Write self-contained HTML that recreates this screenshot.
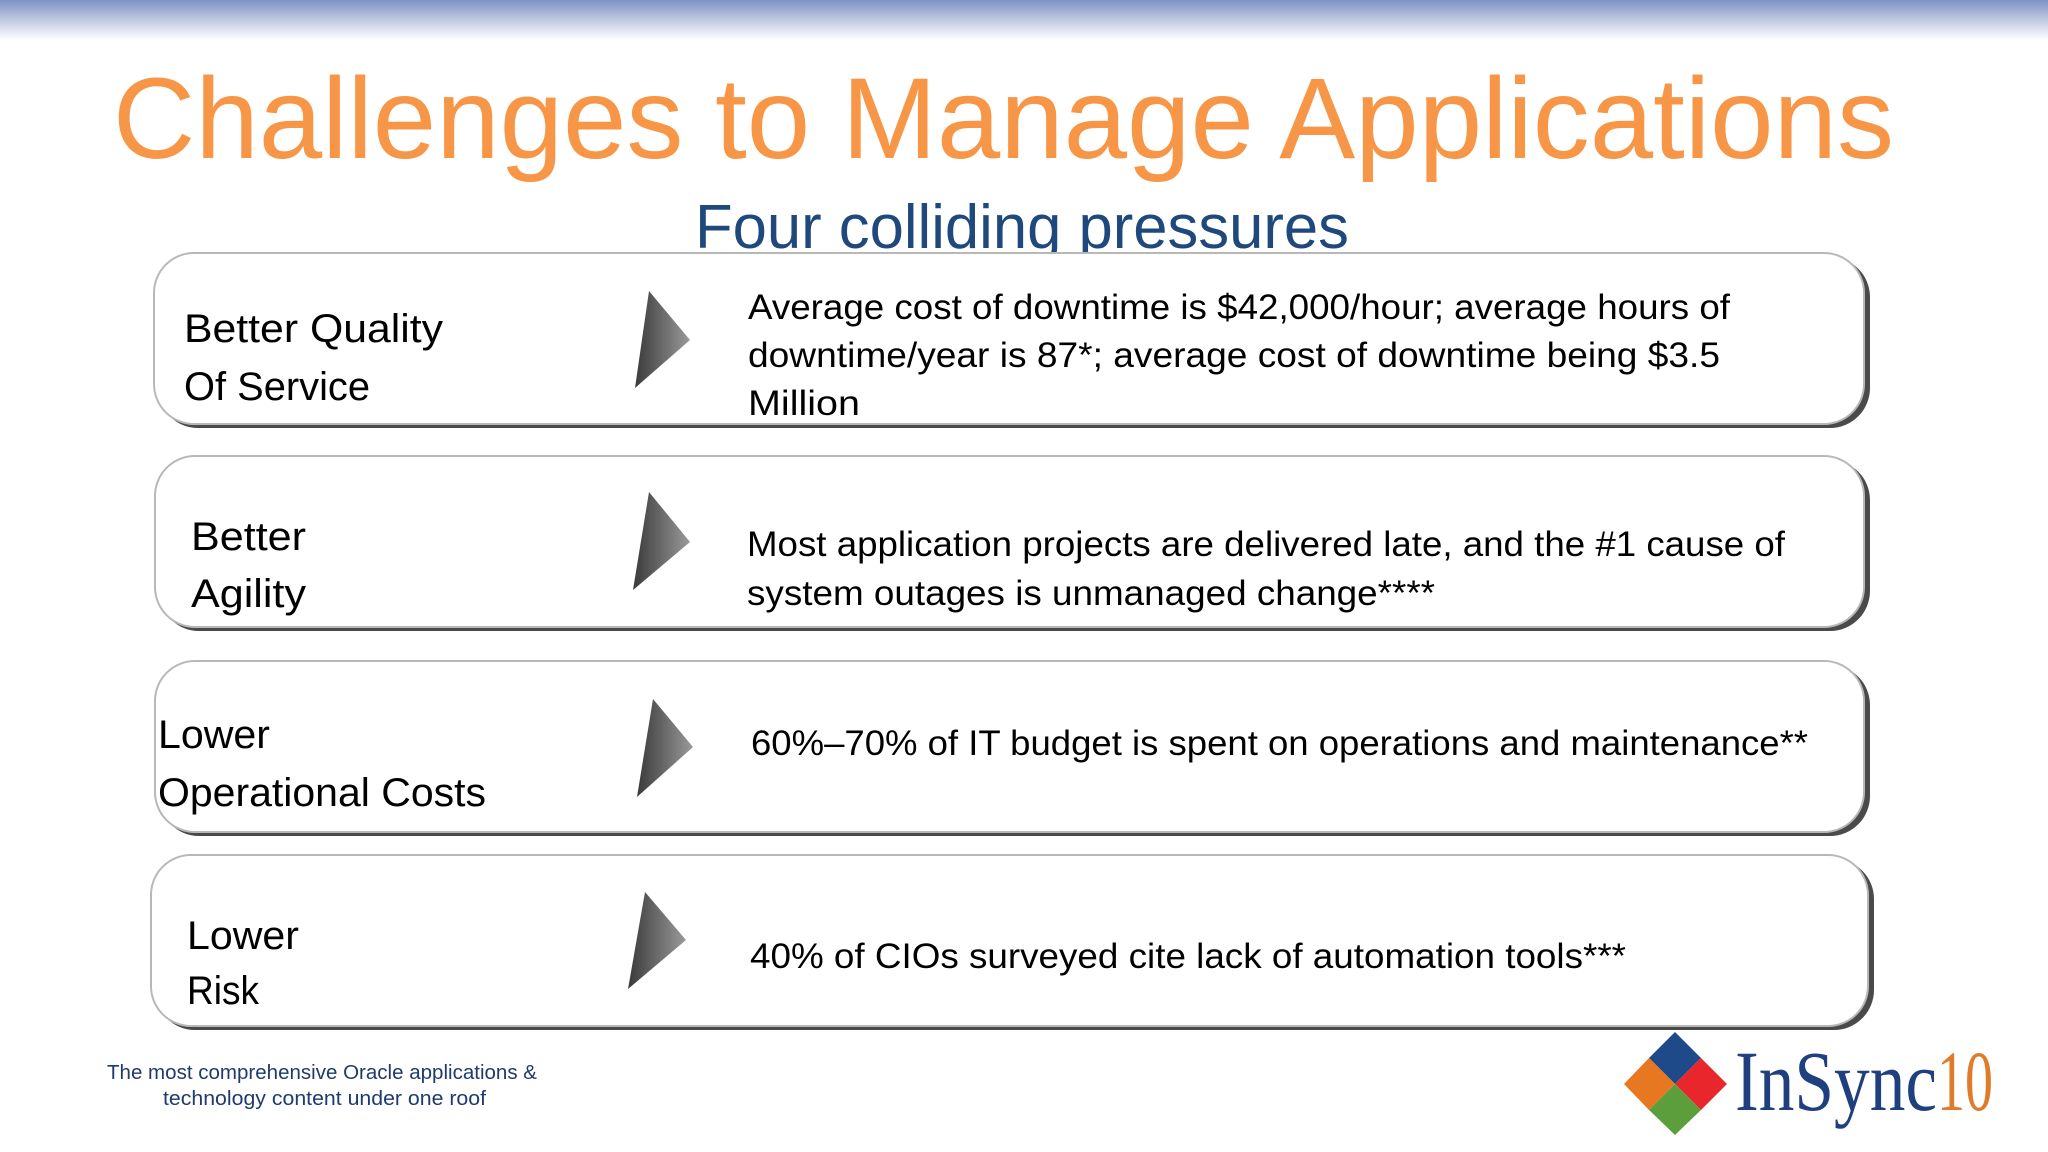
<!DOCTYPE html>
<html><head><meta charset="utf-8"><style>
html,body{margin:0;padding:0;background:#fff;width:2048px;height:1152px;overflow:hidden}
svg{display:block}
</style></head><body>
<svg width="2048" height="1152" viewBox="0 0 2048 1152" xmlns="http://www.w3.org/2000/svg" font-family="'Liberation Sans', sans-serif">
<defs>
<linearGradient id="top" x1="0" y1="0" x2="0" y2="1"><stop offset="0" stop-color="#7f93c4"/><stop offset="1" stop-color="#ffffff"/></linearGradient>
<linearGradient id="arr" x1="0" y1="0" x2="1" y2="0"><stop offset="0" stop-color="#3a3a3a"/><stop offset="1" stop-color="#9a9a9a"/></linearGradient>
</defs>
<rect x="0" y="0" width="2048" height="40" fill="url(#top)"/>
<text x="113" y="158" font-size="115" fill="#f79646" textLength="1781" lengthAdjust="spacingAndGlyphs">Challenges to Manage Applications</text>
<text x="695" y="248" font-size="62" fill="#1f497d" textLength="654" lengthAdjust="spacingAndGlyphs">Four colliding pressures</text>

<g>
<rect x="158" y="257" width="1712" height="171" rx="40" fill="#4a4a4a"/>
<rect x="154" y="253" width="1710" height="171" rx="40" fill="#fff" stroke="#b8b8b8" stroke-width="2"/>
<g font-size="40" fill="#000">
<text x="184" y="342" textLength="259" lengthAdjust="spacingAndGlyphs">Better Quality</text>
<text x="184" y="400" textLength="186" lengthAdjust="spacingAndGlyphs">Of Service</text>
</g>
<polygon points="649,291 690,340 635,388" fill="url(#arr)"/>
<g font-size="35" fill="#000">
<text x="748" y="319" textLength="982" lengthAdjust="spacingAndGlyphs">Average cost of downtime is $42,000/hour; average hours of</text>
<text x="748" y="367" textLength="972" lengthAdjust="spacingAndGlyphs">downtime/year is 87*; average cost of downtime being $3.5</text>
<text x="748" y="415" textLength="112" lengthAdjust="spacingAndGlyphs">Million</text>
</g></g>

<g>
<rect x="159" y="460" width="1711" height="171" rx="40" fill="#4a4a4a"/>
<rect x="155" y="456" width="1709" height="171" rx="40" fill="#fff" stroke="#b8b8b8" stroke-width="2"/>
<g font-size="40" fill="#000">
<text x="191" y="550" textLength="115" lengthAdjust="spacingAndGlyphs">Better</text>
<text x="191" y="607" textLength="115" lengthAdjust="spacingAndGlyphs">Agility</text>
</g>
<polygon points="649,492 690,542 633,590" fill="url(#arr)"/>
<g font-size="35" fill="#000">
<text x="747" y="556" textLength="1038" lengthAdjust="spacingAndGlyphs">Most application projects are delivered late, and the #1 cause of</text>
<text x="747" y="605" textLength="688" lengthAdjust="spacingAndGlyphs">system outages is unmanaged change****</text>
</g></g>

<g>
<rect x="159" y="665" width="1711" height="171" rx="40" fill="#4a4a4a"/>
<rect x="155" y="661" width="1709" height="171" rx="40" fill="#fff" stroke="#b8b8b8" stroke-width="2"/>
<g font-size="40" fill="#000">
<text x="158" y="748" textLength="112" lengthAdjust="spacingAndGlyphs">Lower</text>
<text x="158" y="806" textLength="328" lengthAdjust="spacingAndGlyphs">Operational Costs</text>
</g>
<polygon points="653,699 693,747 637,797" fill="url(#arr)"/>
<text x="751" y="755" font-size="35" textLength="1057" lengthAdjust="spacingAndGlyphs">60%–70% of IT budget is spent on operations and maintenance**</text>
</g>

<g>
<rect x="155" y="859" width="1719" height="171" rx="40" fill="#4a4a4a"/>
<rect x="151" y="855" width="1717" height="171" rx="40" fill="#fff" stroke="#b8b8b8" stroke-width="2"/>
<g font-size="40" fill="#000">
<text x="187" y="949" textLength="112" lengthAdjust="spacingAndGlyphs">Lower</text>
<text x="187" y="1004" textLength="72" lengthAdjust="spacingAndGlyphs">Risk</text>
</g>
<polygon points="645,892 686,940 628,989" fill="url(#arr)"/>
<text x="750" y="968" font-size="35" textLength="876" lengthAdjust="spacingAndGlyphs">40% of CIOs surveyed cite lack of automation tools***</text>
</g>

<g font-size="20" fill="#1f3a6e">
<text x="107" y="1079" textLength="430" lengthAdjust="spacingAndGlyphs">The most comprehensive Oracle applications &amp;</text>
<text x="163" y="1105" textLength="323" lengthAdjust="spacingAndGlyphs">technology content under one roof</text>
</g>

<g>
<polygon points="1675,1032 1701,1058 1675,1084 1649,1058" fill="#1f4a8a"/>
<polygon points="1701,1058 1727,1084 1701,1110 1675,1084" fill="#e8262c"/>
<polygon points="1649,1058 1675,1084 1649,1110 1624,1084" fill="#e87722"/>
<polygon points="1675,1084 1701,1110 1675,1135 1649,1110" fill="#5c9e3b"/>
<text x="1735" y="1110" font-family="'Liberation Serif', serif" font-size="86" fill="#1f3f7f" textLength="202" lengthAdjust="spacingAndGlyphs">InSync</text>
<text x="1937" y="1110" font-family="'Liberation Serif', serif" font-size="86" fill="#e07b2a" textLength="56" lengthAdjust="spacingAndGlyphs">10</text>
</g>
</svg>
</body></html>
